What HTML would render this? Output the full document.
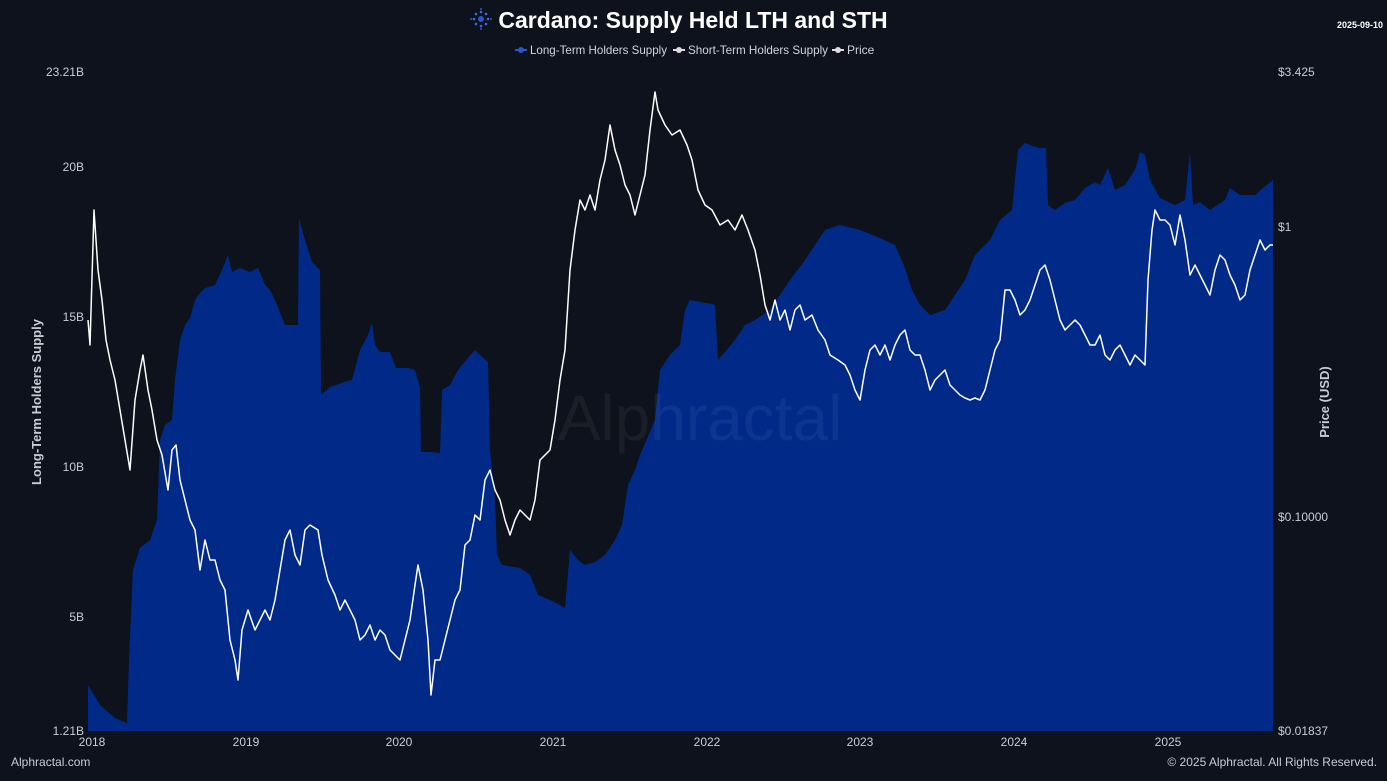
<!DOCTYPE html>
<html><head><meta charset="utf-8"><style>
body{margin:0;background:#0d121c;}
svg{display:block;font-family:"Liberation Sans",sans-serif;}
</style></head><body>
<svg width="1387" height="781" viewBox="0 0 1387 781">
<rect width="1387" height="781" fill="#0d121c"/>
<g transform="translate(481,19)" fill="#2a55d0">
<circle r="3"/>
<g fill="#3f6be8"><circle cx="0" cy="-7" r="1.3"/><circle cx="0" cy="7" r="1.3"/><circle cx="-7" cy="0" r="1.3"/><circle cx="7" cy="0" r="1.3"/><circle cx="5" cy="5" r="1.3"/><circle cx="-5" cy="5" r="1.3"/><circle cx="5" cy="-5" r="1.3"/><circle cx="-5" cy="-5" r="1.3"/><circle cx="0" cy="-10" r="0.9"/><circle cx="0" cy="10" r="0.9"/><circle cx="-10" cy="0" r="0.9"/><circle cx="10" cy="0" r="0.9"/></g>
</g>
<text x="693" y="28" fill="#ffffff" font-size="23" font-weight="bold" text-anchor="middle">Cardano: Supply Held LTH and STH</text>
<text x="1383" y="28" fill="#ffffff" font-size="9" font-weight="bold" text-anchor="end">2025-09-10</text>
<g font-size="12" fill="#d0d4dc">
<line x1="515" y1="50" x2="527" y2="50" stroke="#2a55d0" stroke-width="2"/><circle cx="521" cy="50" r="3" fill="#2a55d0"/>
<text x="530" y="54" textLength="137" lengthAdjust="spacingAndGlyphs">Long-Term Holders Supply</text>
<line x1="673" y1="50" x2="685" y2="50" stroke="#ddd" stroke-width="2"/><circle cx="679" cy="50" r="3" fill="#ddd"/>
<text x="688" y="54" textLength="140" lengthAdjust="spacingAndGlyphs">Short-Term Holders Supply</text>
<line x1="832" y1="50" x2="844" y2="50" stroke="#ddd" stroke-width="2"/><circle cx="838" cy="50" r="3" fill="#ddd"/>
<text x="847" y="54">Price</text>
</g>
<polygon fill="#012a88" points="88,685 100,705 115,718 127,723 129,660 133,570 140,548 150,540 157,520 160,440 165,425 172,420 175,380 180,340 185,325 190,318 195,300 200,293 205,288 215,285 222,270 228,255 232,272 240,268 250,272 258,268 265,285 270,290 275,300 285,325 298,325 299,218 305,240 312,262 320,270 321,395 330,387 345,382 352,380 360,350 368,335 372,323 375,345 380,352 390,352 396,368 408,368 415,370 420,388 421,452 430,452 440,453 442,390 450,385 458,370 468,358 475,350 480,355 488,362 490,450 495,500 497,555 502,565 520,568 530,575 538,595 550,600 560,605 565,608 570,550 578,560 585,565 595,562 605,555 615,540 622,525 628,485 635,470 640,455 655,420 660,370 670,355 680,345 685,310 690,300 700,302 712,304 715,305 718,360 725,352 735,340 745,325 755,320 770,310 790,280 805,260 815,245 825,230 840,225 860,230 880,238 895,245 905,268 912,290 920,305 930,315 945,310 955,295 965,280 975,255 990,240 1000,220 1012,210 1018,150 1025,143 1030,145 1040,148 1046,148 1048,205 1055,210 1065,203 1075,200 1085,188 1095,182 1100,185 1108,168 1115,190 1125,185 1135,170 1140,152 1145,155 1150,180 1160,198 1175,205 1185,200 1190,152 1193,205 1200,202 1210,210 1225,200 1230,188 1240,195 1255,195 1263,188 1273,180 1273,731 88,731"/>
<text x="700" y="440" fill="#ffffff" fill-opacity="0.05" font-size="64" text-anchor="middle">Alphractal</text>
<polyline fill="none" stroke="#ffffff" stroke-width="1.5" stroke-linejoin="round" points="88,320 90,345 94,210 98,270 102,300 106,340 110,360 115,380 120,410 125,440 130,470 135,400 140,370 143,355 148,390 152,410 157,440 162,455 168,490 172,450 176,445 180,480 185,500 190,520 195,530 200,570 205,540 210,560 215,560 220,580 225,590 230,640 235,660 238,680 242,630 248,610 255,630 260,620 265,610 270,620 275,600 280,570 285,540 290,530 295,555 300,565 305,530 310,525 318,530 322,555 328,580 335,595 340,610 345,600 350,610 355,620 360,640 365,635 370,625 375,640 380,630 385,635 390,650 395,655 400,660 405,640 410,620 415,585 418,565 423,590 428,640 431,695 435,660 440,660 445,640 450,620 455,600 460,590 465,545 470,540 475,515 480,520 485,480 490,470 495,490 500,500 505,520 510,535 515,520 520,510 525,515 530,520 535,500 540,460 545,455 550,450 555,420 560,380 565,350 570,270 575,230 580,200 585,210 590,195 595,210 600,180 605,160 610,125 615,150 620,165 625,185 630,195 635,215 640,195 645,175 650,130 655,92 658,110 665,125 672,135 680,130 687,145 692,160 698,190 705,205 712,210 720,225 728,220 735,230 742,215 748,230 755,250 760,275 765,305 770,320 775,300 780,320 785,310 790,330 795,310 800,305 805,320 812,315 818,330 825,340 830,355 838,360 845,365 850,375 855,390 860,400 865,370 870,350 875,345 880,355 885,345 890,360 895,345 900,335 905,330 910,350 915,355 920,355 925,370 930,390 935,380 940,375 945,370 950,385 955,390 960,395 965,398 970,400 975,398 980,400 985,390 990,370 995,350 1000,340 1005,290 1010,290 1015,300 1020,315 1025,310 1030,300 1035,285 1040,270 1045,265 1050,280 1055,300 1060,320 1065,330 1070,325 1075,320 1080,325 1085,335 1090,345 1095,345 1100,335 1105,355 1110,360 1115,350 1120,345 1125,355 1130,365 1135,355 1140,360 1145,365 1148,280 1152,230 1155,210 1160,220 1165,220 1170,225 1175,245 1180,215 1185,240 1190,275 1195,265 1200,275 1205,285 1210,295 1215,270 1220,255 1225,260 1230,275 1235,285 1240,300 1245,295 1250,270 1255,255 1260,240 1265,250 1270,245 1273,245"/>
<g font-size="12" fill="#c8ccd4" text-anchor="end">
<text x="84" y="76">23.21B</text><text x="84" y="171">20B</text><text x="84" y="321">15B</text><text x="84" y="471">10B</text><text x="84" y="621">5B</text><text x="84" y="735">1.21B</text>
</g>
<g font-size="12" fill="#c8ccd4">
<text x="1278" y="76">$3.425</text><text x="1278" y="231">$1</text><text x="1278" y="521">$0.10000</text><text x="1278" y="735">$0.01837</text>
</g>
<g font-size="12" fill="#c8ccd4" text-anchor="middle">
<text x="92" y="746">2018</text><text x="246" y="746">2019</text><text x="399" y="746">2020</text><text x="553" y="746">2021</text><text x="707" y="746">2022</text><text x="860" y="746">2023</text><text x="1014" y="746">2024</text><text x="1168" y="746">2025</text>
</g>
<text transform="translate(41,402) rotate(-90)" font-size="13" font-weight="bold" fill="#c8ccd4" text-anchor="middle">Long-Term Holders Supply</text>
<text transform="translate(1329,402) rotate(-90)" font-size="13" font-weight="bold" fill="#c8ccd4" text-anchor="middle">Price (USD)</text>
<text x="11" y="766" font-size="12" fill="#c8ccd4">Alphractal.com</text>
<text x="1377" y="766" font-size="12" fill="#c8ccd4" text-anchor="end">© 2025 Alphractal. All Rights Reserved.</text>
</svg>
</body></html>
